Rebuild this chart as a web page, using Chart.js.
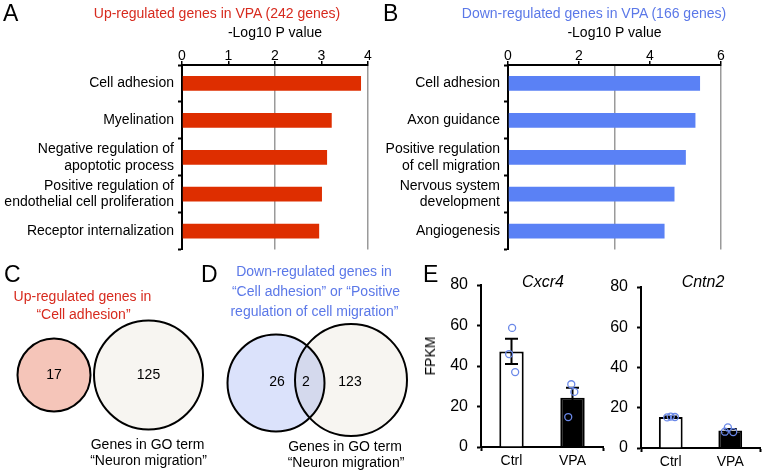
<!DOCTYPE html>
<html>
<head>
<meta charset="utf-8">
<script src="https://cdn.jsdelivr.net/npm/chart.js@4.4.1/dist/chart.umd.min.js"></script>
<style>
  html, body { margin: 0; padding: 0; background: #fff; }
  #fig { position: relative; width: 762px; height: 475px; overflow: hidden; font-family: "Liberation Sans", Arial, sans-serif; color: #000; }
  canvas { position: absolute; }
  .t { position: absolute; transform: translate(-50%, -50%); white-space: nowrap; font-size: 14px; line-height: 1; }
  .L { position: absolute; font-size: 23px; line-height: 23px; }
  .it { font-style: italic; font-size: 16px; }
  .rot { transform: translate(-50%, -50%) rotate(-90deg); }
</style>
</head>
<body>
<div id="fig">
  <canvas id="cA" width="380" height="262" style="left:0;top:0"></canvas>
  <canvas id="cB" width="382" height="262" style="left:380px;top:0"></canvas>
  <canvas id="cV" width="420" height="213" style="left:0;top:262px"></canvas>
  <canvas id="cE1" width="190" height="213" style="left:420px;top:262px"></canvas>
  <canvas id="cE2" width="162" height="213" style="left:600px;top:262px"></canvas>

  <div class="L" style="left:3px;top:2px">A</div>
  <div class="L" style="left:383px;top:2px">B</div>
  <div class="L" style="left:4px;top:263px">C</div>
  <div class="L" style="left:201px;top:263px">D</div>
  <div class="L" style="left:423px;top:263px">E</div>

  <div class="t" style="left:217px;top:12.5px;color:#d72a1e">Up-regulated genes in VPA (242 genes)</div>
  <div class="t" style="left:594px;top:12.5px;color:#5b78e8">Down-regulated genes in VPA (166 genes)</div>

  <div class="t" style="left:82.5px;top:296px;color:#d72a1e">Up-regulated genes in</div>
  <div class="t" style="left:83.5px;top:313.5px;color:#d72a1e">“Cell adhesion”</div>
  <div class="t" style="left:147.5px;top:444px">Genes in GO term</div>
  <div class="t" style="left:148.5px;top:460px">“Neuron migration”</div>

  <div class="t" style="left:314px;top:271px;color:#5b78e8">Down-regulated genes in</div>
  <div class="t" style="left:316px;top:291px;color:#5b78e8">“Cell adhesion” or “Positive</div>
  <div class="t" style="left:314.5px;top:311px;color:#5b78e8">regulation of cell migration”</div>
  <div class="t" style="left:345px;top:446px">Genes in GO term</div>
  <div class="t" style="left:346px;top:461.5px">“Neuron migration”</div>

  <div class="t it" style="left:543px;top:282px">Cxcr4</div>
  <div class="t it" style="left:703px;top:282px">Cntn2</div>
  <div class="t rot" style="left:430px;top:356px">FPKM</div>
</div>

<script>
// ---------------- DATA ----------------
const upTerms = ['Cell adhesion', 'Myelination', ['Negative regulation of', 'apoptotic process'],
                 ['Positive regulation of', 'endothelial cell proliferation'], 'Receptor internalization'];
const upLogP = [3.85, 3.22, 3.12, 3.01, 2.95];

const downTerms = ['Cell adhesion', 'Axon guidance', ['Positive regulation', 'of cell migration'],
                   ['Nervous system', 'development'], 'Angiogenesis'];
const downLogP = [5.41, 5.28, 5.01, 4.69, 4.41];

const vennUpCounts = [17, 125];        // C: up-regulated cell adhesion only, neuron migration only
const vennDownCounts = [26, 2, 123];   // D: down only, overlap, neuron migration only

const groups = ['Ctrl', 'VPA'];
const cxcr4Mean = [47.2, 24.3];
const cxcr4Sem = [6.2, 4.9];
const cxcr4Ctrl = [58.8, 45.9, 37.0];
const cxcr4Vpa = [31.0, 27.2, 14.8];

const cntn2Mean = [15.4, 8.7];
const cntn2Sem = [0.2, 0.7];
const cntn2Ctrl = [15.2, 15.6, 15.4];
const cntn2Vpa = [10.2, 8.1, 7.9];

// ---------------- STYLE / LAYOUT ----------------
Chart.defaults.font.family = '"Liberation Sans", Arial, sans-serif';
Chart.defaults.color = '#000';
const RED = '#de2e00', BLUE = '#5a81f5', PT = '#6a88e8', GRID = '#9a9a9a';

function hbarChart(id, labels, values, color, max, labelStep, gridVals, yWidth, padRight) {
  return new Chart(document.getElementById(id), {
    type: 'bar',
    data: { labels, datasets: [{ data: values, backgroundColor: color, barPercentage: 0.4, categoryPercentage: 1.0 }] },
    options: {
      indexAxis: 'y', responsive: false, animation: false, devicePixelRatio: 1, events: [],
      layout: { autoPadding: false, padding: { left: 0, right: padRight, top: 0, bottom: 7 } },
      plugins: { legend: { display: false }, tooltip: { enabled: false } },
      scales: {
        x: {
          position: 'top', min: 0, max: max,
          ticks: { stepSize: 1, font: { size: 14 }, color: '#000', padding: -4,
                   callback: v => (v % labelStep === 0 ? String(v) : '') },
          grid: {
            color: c => (c.tick && gridVals.includes(c.tick.value)) ? GRID : 'rgba(0,0,0,0)',
            lineWidth: 1.5, tickLength: 4, tickWidth: 1.5,
            tickColor: c => (c.tick && c.tick.value % labelStep === 0) ? '#000' : 'rgba(0,0,0,0)'
          },
          border: { color: '#000', width: 2 },
          title: { display: true, text: '-Log10 P value', font: { size: 14 }, color: '#000', padding: { top: 25, bottom: 0 } },
          afterFit: s => { s.height = 65; }
        },
        y: {
          ticks: { font: { size: 14 }, color: '#000', padding: 4 },
          grid: { drawOnChartArea: false, offset: true, tickLength: 4, tickWidth: 2, tickColor: '#000' },
          border: { color: '#000', width: 2 },
          afterFit: s => { s.width = yWidth; }
        }
      }
    }
  });
}

hbarChart('cA', upTerms, upLogP, RED, 4, 1, [2, 4], 182, 12);
hbarChart('cB', downTerms, downLogP, BLUE, 6, 2, [3, 6], 128, 41);

// ---------- Venn diagrams (C and D) ----------
const vennLayout = {
  circles: [
    { x: 54,    y: 113, r: 36.5, fill: '#f5c5b9' },
    { x: 148.5, y: 113, r: 54.5, fill: '#f7f5f1' },
    { x: 276,   y: 121, r: 48.5, fill: '#dbe2fb' },
    { x: 351,   y: 118, r: 56,   fill: '#f7f5f1' }
  ],
  labelPos: [ { x: 54, y: 113 }, { x: 148.5, y: 113 }, { x: 277, y: 120 }, { x: 306, y: 120 }, { x: 350, y: 120 } ]
};
const vennCounts = vennUpCounts.concat(vennDownCounts);

const vennPlugin = {
  id: 'vennText',
  beforeDatasetsDraw(chart) { chart.ctx.save(); chart.ctx.globalCompositeOperation = 'multiply'; },
  afterDatasetsDraw(chart) {
    const ctx = chart.ctx; ctx.restore();
    const xs = chart.scales.x, ys = chart.scales.y;
    ctx.save();
    ctx.fillStyle = '#000'; ctx.font = '14px "Liberation Sans", Arial, sans-serif';
    ctx.textAlign = 'center'; ctx.textBaseline = 'middle';
    vennCounts.forEach((n, i) => {
      const p = vennLayout.labelPos[i];
      ctx.fillText(String(n), xs.getPixelForValue(p.x), ys.getPixelForValue(p.y));
    });
    ctx.restore();
  }
};

new Chart(document.getElementById('cV'), {
  type: 'bubble',
  data: { datasets: vennLayout.circles.map(c => ({
    data: [{ x: c.x, y: c.y, r: c.r }], backgroundColor: c.fill, borderColor: '#000', borderWidth: 2, clip: false
  })) },
  options: {
    responsive: false, animation: false, devicePixelRatio: 1, events: [],
    layout: { autoPadding: false, padding: 0 },
    plugins: { legend: { display: false }, tooltip: { enabled: false } },
    scales: {
      x: { type: 'linear', display: false, min: 0, max: 420 },
      y: { type: 'linear', display: false, min: 0, max: 213, reverse: true }
    }
  },
  plugins: [vennPlugin]
});

// ---------- Panel E bar charts ----------
const errorBarPlugin = {
  id: 'errbars',
  afterDatasetDraw(chart, args, opts) {
    if (args.index !== 1) return;
    const ctx = chart.ctx, y = chart.scales.y;
    ctx.save(); ctx.strokeStyle = '#000'; ctx.lineWidth = 2;
    args.meta.data.forEach((bar, i) => {
      const m = opts.means[i], s = opts.sems[i];
      const yt = y.getPixelForValue(m + s), yb = y.getPixelForValue(m - s), x = bar.x, cap = 6.5;
      ctx.beginPath();
      ctx.moveTo(x, yt); ctx.lineTo(x, yb);
      ctx.moveTo(x - cap, yt); ctx.lineTo(x + cap, yt);
      ctx.moveTo(x - cap, yb); ctx.lineTo(x + cap, yb);
      ctx.stroke();
    });
    ctx.restore();
  }
};

function fpkmChart(id, means, sems, ctrlPts, vpaPts, jitter, yWidth, padTop, xHeight, padRight) {
  const pts = [ctrlPts, vpaPts].flatMap((arr, g) => arr.map((v, k) => ({ x: g + jitter[g][k], y: v })));
  return new Chart(document.getElementById(id), {
    type: 'bar',
    data: {
      labels: groups,
      datasets: [
        { type: 'scatter', data: pts, xAxisID: 'xj', yAxisID: 'y', order: 0,
          pointStyle: 'circle', pointRadius: 3.5, borderColor: PT, backgroundColor: 'rgba(0,0,0,0)', borderWidth: 1.3 },
        { type: 'bar', data: means, xAxisID: 'x', yAxisID: 'y', order: 1, grouped: false,
          backgroundColor: ['#ffffff', '#000000'], borderColor: '#000', borderWidth: 2,
          barPercentage: 0.4, categoryPercentage: 1.0 }
      ]
    },
    options: {
      responsive: false, animation: false, devicePixelRatio: 1, events: [],
      layout: { autoPadding: false, padding: { left: 0, right: padRight, top: padTop, bottom: 0 } },
      plugins: { legend: { display: false }, tooltip: { enabled: false }, errbars: { means, sems } },
      scales: {
        x: {
          type: 'category', offset: true,
          ticks: { font: { size: 14 }, color: '#000', padding: 2 },
          grid: { drawOnChartArea: false, offset: true, tickLength: 4, tickWidth: 2,
                  tickColor: c => (c.index === 1 ? 'rgba(0,0,0,0)' : '#000') },
          border: { color: '#000', width: 2 },
          afterFit: s => { s.height = xHeight; }
        },
        xj: { type: 'linear', display: false, offset: false, min: -0.5, max: 1.5 },
        y: {
          min: 0, max: 80,
          ticks: { stepSize: 20, font: { size: 16 }, color: '#000', padding: 9 },
          grid: { drawOnChartArea: false, tickLength: 4, tickWidth: 2, tickColor: '#000' },
          border: { color: '#000', width: 2 },
          afterFit: s => { s.width = yWidth; }
        }
      }
    },
    plugins: [errorBarPlugin]
  });
}

fpkmChart('cE1', cxcr4Mean, cxcr4Sem, cxcr4Ctrl, cxcr4Vpa,
          [[0.01, -0.04, 0.06], [-0.02, 0.03, -0.07]], 61, 23, 28, 7);
fpkmChart('cE2', cntn2Mean, cntn2Sem, cntn2Ctrl, cntn2Vpa,
          [[-0.06, 0.0, 0.07], [-0.04, -0.09, 0.05]], 41, 25, 27, 2);
</script>
</body>
</html>
